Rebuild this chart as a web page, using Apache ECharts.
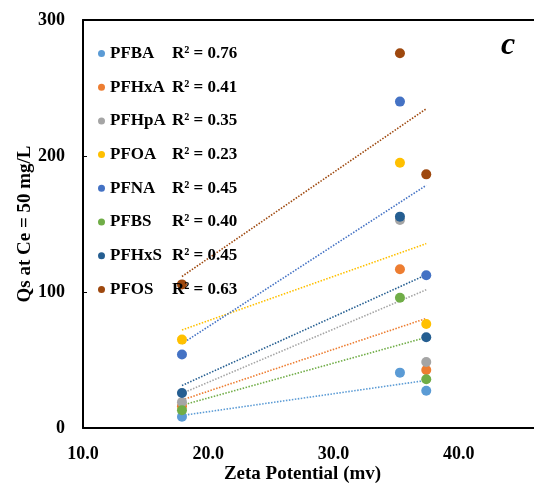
<!DOCTYPE html>
<html><head><meta charset="utf-8">
<script src="https://cdn.jsdelivr.net/npm/echarts@6/dist/echarts.min.js"></script>
<style>html,body{margin:0;padding:0;background:#fff}#c{width:534px;height:484px}</style>
</head><body><div id="c"></div>
<script>
const seriesNames = ['PFBA','PFHxA','PFHpA','PFOA','PFNA','PFBS','PFHxS','PFOS'];
const r2Labels = ['0.76','0.41','0.35','0.23','0.45','0.40','0.45','0.63'];
const colors = ['#5B9BD5','#ED7D31','#A5A5A5','#FFC000','#4472C4','#70AD47','#255E91','#9E480E'];
const zeta = [17.9, 35.3, 37.4];
const PFBA  = [8.3, 40.7, 27.4];
const PFHxA = [16, 116.7, 42.6];
const PFHpA = [19, 153, 48.5];
const PFOA  = [65, 195, 76.5];
const PFNA  = [54, 240, 112.3];
const PFBS  = [13, 95.8, 35.8];
const PFHxS = [25.7, 155.4, 66.7];
const PFOS  = [105.6, 275.5, 186.5];
const values = [PFBA, PFHxA, PFHpA, PFOA, PFNA, PFBS, PFHxS, PFOS];
const xTicks = [10, 20, 30, 40];

const FONT = '"Liberation Serif","Times New Roman",serif';

function fit(xs, ys) {
  const n = xs.length;
  const mx = xs.reduce((a,b)=>a+b,0)/n, my = ys.reduce((a,b)=>a+b,0)/n;
  let sxy=0, sxx=0;
  for (let i=0;i<n;i++){ sxy += (xs[i]-mx)*(ys[i]-my); sxx += (xs[i]-mx)**2; }
  const m = sxy/sxx, b = my - m*mx;
  const x0 = Math.min(...xs), x1 = Math.max(...xs);
  return [[x0, m*x0+b],[x1, m*x1+b]];
}

const series = [];
seriesNames.forEach((name, i) => {
  series.push({
    name: name + ' trend', type: 'line', data: fit(zeta, values[i]),
    symbol: 'none', silent: true, z: 1,
    lineStyle: { color: colors[i], width: 1.6, type: [1.5, 1.5] }
  });
});
seriesNames.forEach((name, i) => {
  series.push({
    name: name, type: 'scatter', symbol: 'circle', symbolSize: 10, z: 3,
    itemStyle: { color: colors[i], opacity: 1 },
    data: zeta.map((x, j) => [x, values[i][j]])
  });
});

const chart = echarts.init(document.getElementById('c'));
chart.setOption({
  animation: false,
  backgroundColor: '#fff',
  color: colors,
  grid: { left: 83, top: 20, height: 408, width: 451, outerBoundsMode: 'none', containLabel: false,
          show: false },
  legend: {
    data: seriesNames, orient: 'vertical', left: 93, top: 40,
    icon: 'circle', itemWidth: 7, itemHeight: 7, itemGap: 16.7,
    formatter: function (name) {
      const i = seriesNames.indexOf(name);
      return '{n|' + name + '}{r|R² = ' + r2Labels[i] + '}';
    },
    textStyle: {
      fontFamily: FONT, fontWeight: 'bold', fontSize: 17, color: '#000',
      rich: {
        n: { width: 62, fontFamily: FONT, fontWeight: 'bold', fontSize: 17, color: '#000', lineHeight: 17 },
        r: { fontFamily: FONT, fontWeight: 'bold', fontSize: 17, color: '#000', lineHeight: 17 }
      }
    }
  },
  graphic: [{
    type: 'text', left: 501, top: 30,
    style: { text: 'c', font: 'italic bold 32px ' + FONT, fill: '#000' }
  }],
  xAxis: [{
    type: 'value', min: 10, max: 46, interval: 10,
    name: 'Zeta Potential (mv)', nameLocation: 'middle', nameGap: 37, nameMoveOverlap: false,
    nameTextStyle: { fontFamily: FONT, fontWeight: 'bold', fontSize: 19, color: '#000', padding: [0, 12, 0, 0] },
    axisLine: { show: true, lineStyle: { color: '#000', width: 2 } },
    axisTick: { show: false },
    splitLine: { show: false },
    axisLabel: {
      margin: 17, fontFamily: FONT, fontWeight: 'bold', fontSize: 18, color: '#000',
      showMaxLabel: false,
      formatter: v => xTicks.includes(v) ? v.toFixed(1) : ''
    }
  }, {
    type: 'value', position: 'top', min: 10, max: 46,
    axisLine: { show: true, onZero: false, lineStyle: { color: '#000', width: 2 } },
    axisTick: { show: false }, axisLabel: { show: false }, splitLine: { show: false }
  }],
  yAxis: {
    type: 'value', min: 0, max: 300, interval: 100,
    name: 'Qs at Ce = 50 mg/L', nameLocation: 'middle', nameGap: 48, nameRotate: 90, nameMoveOverlap: false,
    nameTextStyle: { fontFamily: FONT, fontWeight: 'bold', fontSize: 19, color: '#000' },
    axisLine: { show: true, lineStyle: { color: '#000', width: 2 } },
    axisTick: { show: true, inside: true, length: 4, lineStyle: { color: '#000', width: 1 } },
    splitLine: { show: false },
    axisLabel: { margin: 18, fontFamily: FONT, fontWeight: 'bold', fontSize: 18, color: '#000' }
  },
  series: series
});
</script>
</body></html>
